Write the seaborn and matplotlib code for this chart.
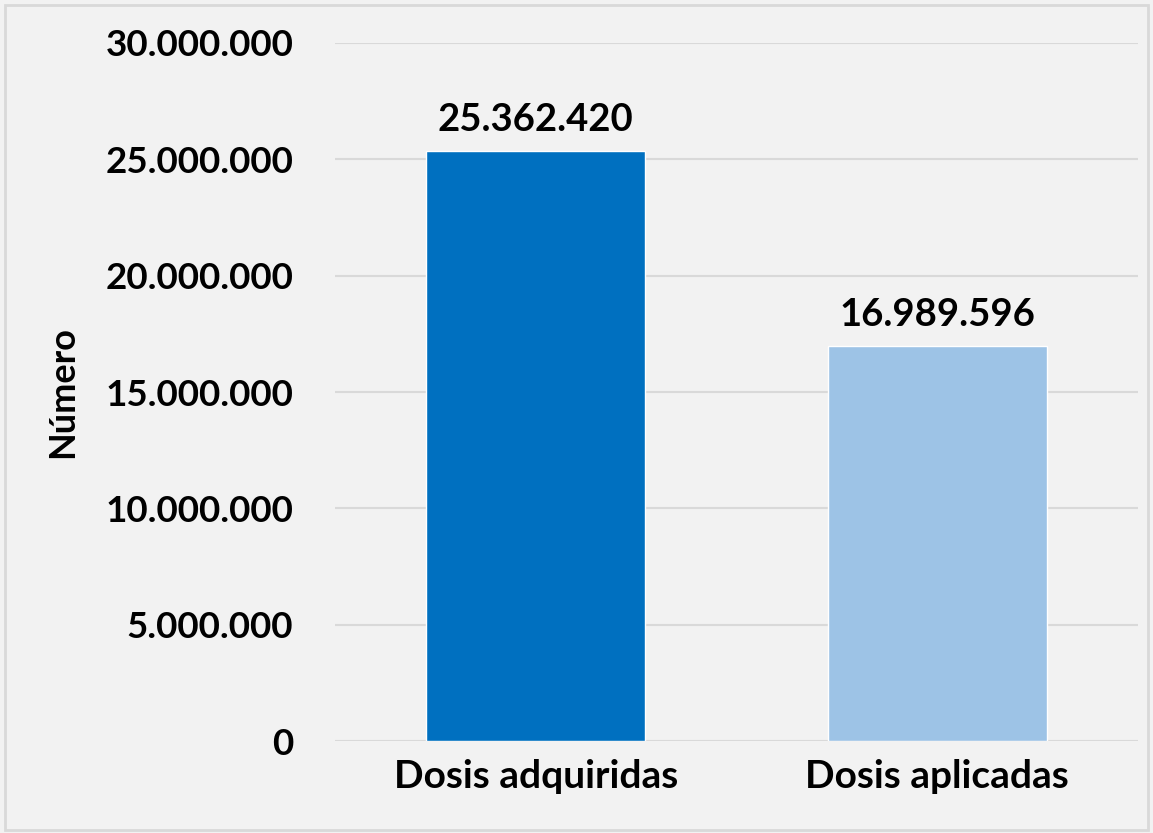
import matplotlib
matplotlib.use("Agg")
import matplotlib.pyplot as plt
import matplotlib.ticker as mticker
import pandas as pd
import seaborn as sns

categorias = ["Dosis adquiridas", "Dosis aplicadas"]
valores = [25362420, 16989596]
colores = ["#0070c0", "#9dc3e6"]
y_ticks = [0, 5000000, 10000000, 15000000, 20000000, 25000000, 30000000]

sns.set_theme(style="whitegrid")
plt.rcParams["font.family"] = ["Lato", "DejaVu Sans"]


def miles(v):
    return f"{int(v):,}".replace(",", ".")


df = pd.DataFrame({"categoria": categorias, "valor": valores})

fig = plt.figure(figsize=(11.53, 8.33), dpi=100, facecolor="#f2f2f2")
ax = fig.add_axes([0.2905, 0.1104, 0.6965, 0.838])
ax.set_facecolor("#f2f2f2")

sns.barplot(data=df, x="categoria", y="valor", hue="categoria", palette=colores,
            width=0.545, legend=False, ax=ax, saturation=1)

ax.set_ylim(0, 30000000)
ax.set_yticks(y_ticks)
ax.yaxis.set_major_formatter(mticker.FuncFormatter(lambda v, _: miles(v)))
ax.grid(axis="y", color="#d9d9d9", linewidth=1.5)
ax.grid(axis="x", visible=False)
ax.set_axisbelow(True)
for s in ax.spines.values():
    s.set_visible(False)
ax.tick_params(axis="y", labelsize=26.5, pad=30, length=0)
ax.tick_params(axis="x", labelsize=28, pad=13, length=0)
for lbl in ax.get_xticklabels() + ax.get_yticklabels():
    lbl.set_fontweight("bold")
    lbl.set_color("black")

ax.set_xlabel("")
ax.set_ylabel("Número", fontsize=26, fontweight="bold", color="black")
ax.yaxis.set_label_coords(-0.318, 0.5)

for i, v in enumerate(valores):
    ax.text(i, v + 600000, miles(v), ha="center", va="bottom",
            fontsize=27.5, fontweight="bold", color="black")

fig.patches.append(plt.Rectangle((0.004, 0.004), 0.992, 0.99, transform=fig.transFigure,
                                 fill=False, edgecolor="#d9d9d9", linewidth=2))

fig.savefig("out.png", dpi=100, facecolor=fig.get_facecolor())
